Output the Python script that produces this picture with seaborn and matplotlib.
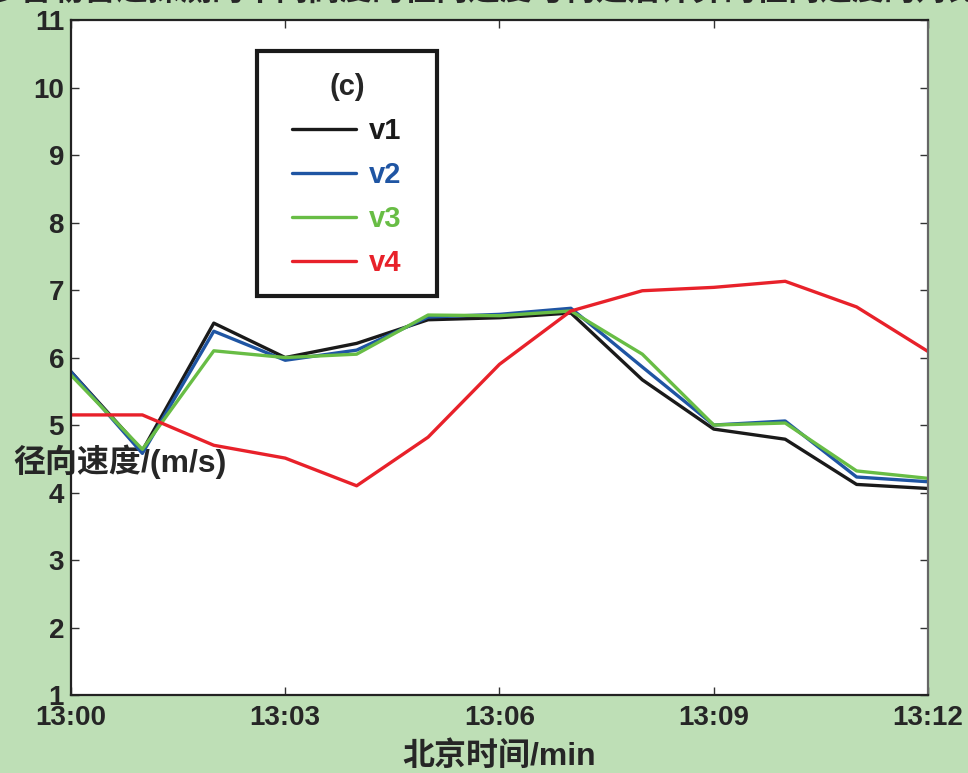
import matplotlib
matplotlib.use("Agg")
import matplotlib.pyplot as plt
from matplotlib.patches import Rectangle
import numpy as np
import pandas as pd
import seaborn as sns

# minutes after 13:00
minutes = list(range(13))
v1 = [5.79, 4.62, 6.51, 6.00, 6.21, 6.56, 6.59, 6.66, 5.67, 4.94, 4.79, 4.12, 4.06]
v2 = [5.79, 4.58, 6.39, 5.96, 6.11, 6.60, 6.64, 6.73, 5.86, 5.00, 5.06, 4.23, 4.16]
v3 = [5.74, 4.64, 6.10, 6.00, 6.05, 6.63, 6.62, 6.69, 6.05, 5.00, 5.03, 4.32, 4.21]
v4 = [5.15, 5.15, 4.70, 4.51, 4.10, 4.82, 5.90, 6.69, 6.99, 7.04, 7.13, 6.75, 6.09]
series_names = ["v1", "v2", "v3", "v4"]
colors = ["#1a1a1a", "#1f55a3", "#68bd45", "#e8212a"]
xtick_pos = [0, 3, 6, 9, 12]
xtick_labels = ["13:00", "13:03", "13:06", "13:09", "13:12"]
yticks = list(range(1, 12))

df = pd.DataFrame({
    "t": minutes * 4,
    "v": v1 + v2 + v3 + v4,
    "s": sum([[n] * len(minutes) for n in series_names], []),
})

sns.set_theme(style="ticks")
plt.rcParams['font.family'] = ['Liberation Sans', 'Noto Sans CJK SC', 'DejaVu Sans']
plt.rcParams['font.weight'] = 'bold'

bg = "#bedfb6"
fig = plt.figure(figsize=(9.68, 7.73), dpi=100, facecolor=bg)
ax = fig.add_axes([0.0733, 0.1009, 0.8854, 0.8731])
ax.set_facecolor("white")

sns.lineplot(data=df, x="t", y="v", hue="s", palette=colors, linewidth=2.4,
             ax=ax, legend=False)

ax.set_xlim(0, 12)
ax.set_ylim(1, 11)
ax.set_xticks(xtick_pos)
ax.set_xticklabels(xtick_labels)
ax.set_yticks(yticks)
ax.tick_params(direction="in", length=6, width=1, labelsize=20,
               top=True, right=True, pad=7, color="#333333")
ax.tick_params(axis="y", pad=5)
for lab in ax.get_xticklabels() + ax.get_yticklabels():
    lab.set_fontweight("bold")
for sp in ax.spines.values():
    sp.set_linewidth(1.6)
    sp.set_color("#222222")
ax.spines["right"].set_color("#666666")

ax.set_xlabel("北京时间/min", fontsize=23, fontweight="bold")
ax.xaxis.set_label_coords(0.5, -0.092)
ax.xaxis.label.set_va("center")
ax.set_ylabel("径向速度/(m/s)", fontsize=23, fontweight="bold", rotation=0)
ax.yaxis.set_label_coords(0.057, 0.345)
ax.yaxis.label.set_va("center")
ax.yaxis.label.set_ha("center")

# legend frame
ax.add_patch(Rectangle((0.217, 0.591), 0.21, 0.363, transform=ax.transAxes,
                       fill=False, edgecolor="#1a1a1a", lw=3, zorder=5))
handles = [plt.Line2D([], [], color=c, lw=2.4) for c in colors]
leg = ax.legend(handles, series_names, title="(c)", loc="upper center",
                bbox_to_anchor=(0.322, 0.922), fontsize=21,
                title_fontsize=21, frameon=False,
                borderpad=0, labelspacing=0.55, handlelength=2.2,
                handletextpad=0.45, borderaxespad=0)
leg.get_title().set_fontweight("bold")
for txt, c in zip(leg.get_texts(), colors):
    txt.set_color(c)
    txt.set_fontweight("bold")

fig.text(0.5, 1.011, "多普勒雷达探测的不同高度的径向速度与构建后计算的径向速度的对比",
         ha="center", va="center", fontsize=23, fontweight="bold")

fig.savefig("out.png", dpi=100, facecolor=bg)
